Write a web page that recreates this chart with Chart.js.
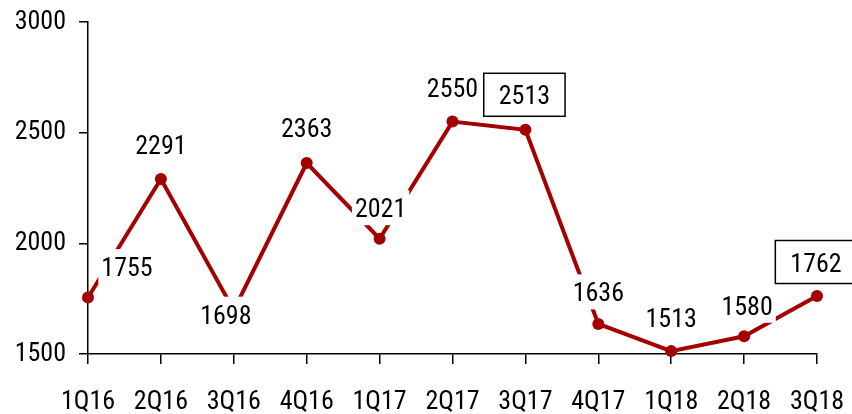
<!DOCTYPE html>
<html>
<head>
<meta charset="utf-8">
<script src="https://cdn.jsdelivr.net/npm/chart.js@4.4.0/dist/chart.umd.min.js"></script>
<style>
html,body{margin:0;padding:0;background:#fff;}
#wrap{width:852px;height:414px;position:relative;}
</style>
</head>
<body>
<div id="wrap"><canvas id="c" width="852" height="414"></canvas></div>
<script>
const categories = ["1Q16","2Q16","3Q16","4Q16","1Q17","2Q17","3Q17","4Q17","1Q18","2Q18","3Q18"];
const values = [1755, 2291, 1698, 2363, 2021, 2550, 2513, 1636, 1513, 1580, 1762];
const yTicks = [1500, 2000, 2500, 3000];

// label placement (style, not data)
const labelOffsets = [[39,-31],[0,-34],[-8,4],[0,-35],[1,-31],[0,-34],[-1,-35],[0,-32],[0,-34],[3,-31],[-1,-34]];
const labelBoxed = [false,false,false,false,false,false,true,false,false,false,true];

const FONT = '"Roboto Condensed", Roboto, sans-serif';
const FS = 26;
const RED = '#A50000';

const labelPlugin = {
  id: 'valueLabels',
  afterDatasetsDraw(chart) {
    const ctx = chart.ctx;
    const meta = chart.getDatasetMeta(0);
    ctx.save();
    ctx.font = FS + 'px ' + FONT;
    ctx.textAlign = 'center';
    ctx.textBaseline = 'alphabetic';
    meta.data.forEach((pt, i) => {
      const txt = String(values[i]);
      const cx = pt.x + labelOffsets[i][0];
      const cy = pt.y + labelOffsets[i][1];
      const w = ctx.measureText(txt).width;
      if (labelBoxed[i]) {
        const bw = w + 30, bh = 43;
        ctx.fillStyle = '#fff';
        ctx.fillRect(cx - bw/2, cy - bh/2, bw, bh);
        ctx.strokeStyle = '#000';
        ctx.lineWidth = 1.5;
        ctx.strokeRect(cx - bw/2, cy - bh/2, bw, bh);
      } else {
        const bw = w + 6, bh = 35;
        ctx.fillStyle = '#fff';
        ctx.fillRect(cx - bw/2, cy - bh/2, bw, bh);
      }
      ctx.fillStyle = '#000';
      ctx.fillText(txt, cx, cy + 9.5);
    });
    ctx.restore();
  }
};

new Chart(document.getElementById('c'), {
  type: 'line',
  data: {
    labels: categories,
    datasets: [{
      data: values,
      borderColor: RED,
      backgroundColor: RED,
      borderWidth: 4,
      pointRadius: 6,
      pointBackgroundColor: RED,
      pointBorderColor: RED,
      pointBorderWidth: 0,
      tension: 0,
      clip: false
    }]
  },
  options: {
    responsive: false,
    animation: false,
    devicePixelRatio: 1,
    layout: { padding: { top: 22, right: 35, left: 0, bottom: 0 } },
    plugins: { legend: { display: false }, tooltip: { enabled: false } },
    scales: {
      x: {
        offset: false,
        grid: { drawOnChartArea: false, drawTicks: true, tickLength: 10, color: '#000', lineWidth: 1.5 },
        border: { color: '#000', width: 1.5 },
        ticks: { color: '#000', font: { family: FONT, size: FS }, padding: 23, maxRotation: 0, autoSkip: false },
        afterFit(s) { s.height = 60; s.paddingLeft = 0; s.paddingRight = 0; }
      },
      y: {
        min: 1500, max: 3000,
        afterBuildTicks(s) { s.ticks = yTicks.map(v => ({ value: v })); },
        grid: { drawOnChartArea: false, drawTicks: true, tickLength: 9, color: '#000', lineWidth: 1.5 },
        border: { color: '#000', width: 1.5 },
        ticks: { color: '#000', font: { family: FONT, size: FS }, padding: 13, callback: v => String(v) },
        afterFit(s) { s.width = 88; s.paddingTop = 0; s.paddingBottom = 0; }
      }
    }
  },
  plugins: [labelPlugin]
});
</script>
</body>
</html>
